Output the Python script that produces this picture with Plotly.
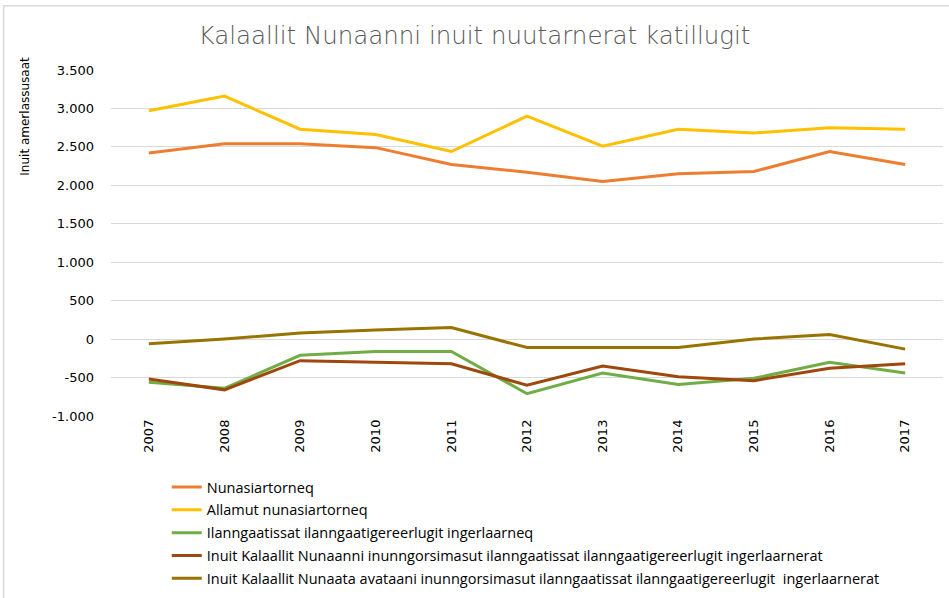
import plotly.graph_objects as go

years = ["2007", "2008", "2009", "2010", "2011", "2012", "2013", "2014", "2015", "2016", "2017"]
nunasiartorneq = [2420, 2540, 2540, 2490, 2270, 2170, 2050, 2150, 2180, 2440, 2270]
allamut = [2970, 3160, 2730, 2660, 2440, 2900, 2510, 2730, 2680, 2750, 2730]
ilanngaatissat = [-560, -640, -210, -160, -160, -710, -440, -590, -510, -300, -440]
inuit_kn = [-520, -660, -280, -300, -320, -600, -350, -490, -540, -380, -320]
inuit_avataani = [-60, 0, 80, 120, 150, -110, -110, -110, 0, 60, -130]

names = [
    "Nunasiartorneq",
    "Allamut nunasiartorneq",
    "Ilanngaatissat ilanngaatigereerlugit ingerlaarneq",
    "Inuit Kalaallit Nunaanni inunngorsimasut ilanngaatissat ilanngaatigereerlugit ingerlaarnerat",
    "Inuit Kalaallit Nunaata avataani inunngorsimasut ilanngaatissat ilanngaatigereerlugit  ingerlaarnerat",
]
series = [nunasiartorneq, allamut, ilanngaatissat, inuit_kn, inuit_avataani]
colors = ["#ED7D31", "#FFC000", "#70AD47", "#9E480E", "#997300"]
yticks = [-1000, -500, 0, 500, 1000, 1500, 2000, 2500, 3000, 3500]
yticklabels = ["-1.000", "-500", "0", "500", "1.000", "1.500", "2.000", "2.500", "3.000", "3.500"]

fig = go.Figure()
for i, (n, s, c) in enumerate(zip(names, series, colors)):
    fig.add_trace(go.Scatter(x=years, y=s, name=n, mode="lines",
                             line=dict(color=c, width=3), legendgroup=str(i)))

fig.update_layout(
    width=949, height=598,
    margin=dict(l=111, r=6, t=70, b=182, autoexpand=False),
    paper_bgcolor="white", plot_bgcolor="white",
    title=dict(text="Kalaallit Nunaanni inuit nuutarnerat katillugit",
               x=0.5, xanchor="center", y=0.940, yanchor="middle",
               font=dict(family="DejaVu Sans ExtraLight, DejaVu Sans", weight=200,
                         size=24.5, color="#595959")),
    xaxis=dict(type="category", tickangle=-90, showgrid=False, showline=False,
               ticks="", tickfont=dict(family="DejaVu Sans", size=13, color="#000000"),
               range=[-0.5, 10.5]),
    yaxis=dict(range=[-1000, 3500], tickvals=yticks, ticktext=yticklabels,
               gridcolor="#D9D9D9", gridwidth=1, zeroline=False, showline=False,
               ticks="", ticklen=0, ticklabelstandoff=16,
               tickfont=dict(family="DejaVu Sans", size=13, color="#000000")),
    showlegend=True,
    legend=dict(x=0.067, y=-0.159, xanchor="left", yanchor="top",
                font=dict(family="Open Sans", size=14.5, color="#000000"),
                tracegroupgap=1, itemwidth=30, bgcolor="rgba(0,0,0,0)"),
    annotations=[dict(text="Inuit amerlassusaat", xref="paper", yref="paper",
                      x=-0.103, y=0.866, textangle=-90, showarrow=False,
                      xanchor="center", yanchor="middle",
                      font=dict(family="DejaVu Sans", size=12, color="#000000"))],
    shapes=[dict(type="rect", xref="paper", yref="paper",
                 x0=-0.129, x1=1.2, y0=-0.71, y1=1.186,
                 line=dict(color="#D9D9D9", width=1.5), fillcolor="rgba(0,0,0,0)")],
)

fig.write_html("out.html", config={"displayModeBar": False},
               post_script="document.body.style.margin='0';document.body.style.padding='0';")
